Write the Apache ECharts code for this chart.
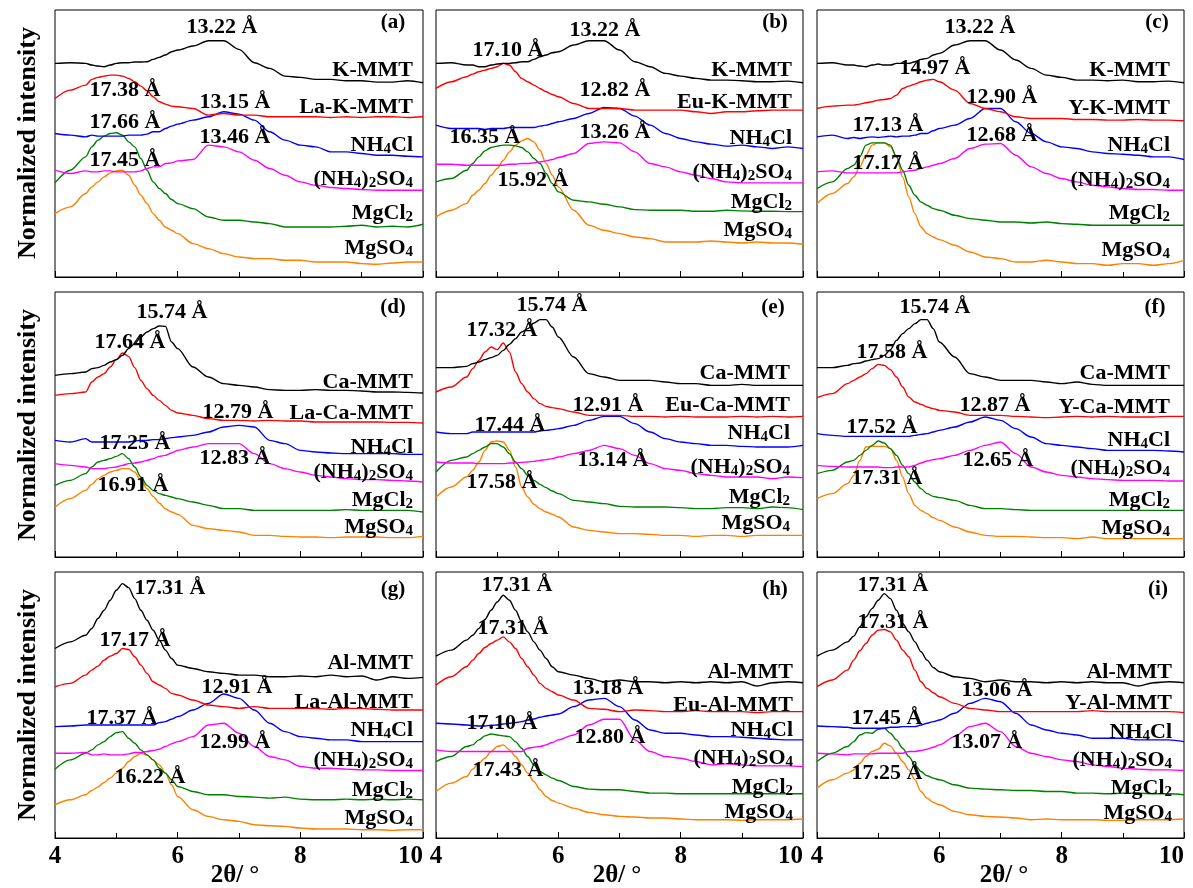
<!DOCTYPE html>
<html>
<head>
<meta charset="utf-8">
<script src="https://cdn.jsdelivr.net/npm/echarts@6/dist/echarts.min.js"></script>
<style>
html,body{margin:0;padding:0;background:#fff;}
#main{width:1193px;height:888px;}
</style>
</head>
<body>
<div id="main"></div>
<script>
// 2θ sampling shared by all curves (degrees); denser where the low-angle peaks sit
const theta = [4,4.25,4.5, 4.6,4.7,4.8,4.9,5,5.1,5.2,5.3,5.4,5.5,5.6,5.7,5.8,5.9,6,
               6.25,6.5,6.75,7,7.25,7.5,7.75,8,8.25,8.5,8.75,9,9.25,9.5,9.75,10];
const xTicks = [4,6,8,10];

// (a) K-MMT / La-K-MMT
const a_mmt    = [640,642,640, 635,632,630,635,640,642,642,644,644,645,652,658,665,675,680, 692,708,708,682,642,625,602,598,592,592,588,588,584,584,588,582];
const a_ree    = [535,560,575, 592,598,602,605,605,602,595,585,572,558,540,525,518,512,510, 505,485,490,485,485,480,480,480,480,478,480,478,480,480,478,480];
const a_nh4cl  = [430,425,420, 425,422,422,422,422,422,425,425,425,428,435,435,445,452,458, 470,480,495,488,470,435,410,395,390,375,375,370,365,365,362,360];
const a_nh4so4 = [320,310,318, 315,315,318,318,315,315,315,315,318,325,330,330,340,342,348, 352,395,390,375,350,325,305,285,275,268,265,262,260,260,260,260];
const a_mgcl2  = [282,320,360, 390,410,422,430,432,425,405,390,355,320,285,265,250,232,220, 205,180,170,170,165,160,150,150,150,150,152,155,150,152,150,158];
const a_mgso4  = [190,210,250, 270,285,300,312,318,320,305,275,245,220,190,170,150,140,130, 100,85,70,60,55,55,50,50,45,45,45,40,38,42,45,45];
// (b) K-MMT / Eu-K-MMT
const b_mmt    = [640,642,635, 635,630,630,635,638,640,640,642,645,645,652,660,665,672,675, 695,708,708,680,645,630,610,602,595,590,590,588,585,585,587,582];
const b_ree    = [565,585,600, 608,615,620,625,630,640,635,615,595,585,575,565,555,547,540, 520,505,505,505,500,500,500,500,495,490,495,495,498,500,500,500];
const b_nh4cl  = [455,445,445, 445,445,442,445,445,445,448,448,448,448,448,452,455,460,465, 475,490,508,505,482,455,430,415,405,398,392,395,390,385,390,385];
const b_nh4so4 = [338,338,335, 335,335,335,335,335,335,338,338,340,340,342,345,348,352,358, 370,400,405,402,375,340,330,315,305,295,285,282,282,282,282,282];
const b_mgcl2  = [285,295,320, 340,360,378,388,392,395,395,393,388,375,355,340,310,280,255, 230,225,218,210,202,200,200,200,197,197,200,198,197,197,196,196];
const b_mgso4  = [180,200,220, 245,260,280,305,325,350,375,395,408,415,405,380,340,305,270, 200,155,140,130,120,115,105,105,105,108,105,102,105,102,102,98];
// (c) K-MMT / Y-K-MMT
const c_mmt    = [640,642,635, 635,632,630,635,638,635,635,640,640,640,645,652,655,665,670, 695,708,708,680,650,625,605,598,590,590,588,590,585,585,587,582];
const c_ree    = [505,512,515, 515,518,522,525,530,532,535,545,565,572,578,585,590,592,585, 560,520,505,495,480,475,475,475,472,472,470,470,472,470,470,468];
const c_nh4cl  = [420,425,415, 418,415,418,420,418,420,422,420,422,422,425,430,430,438,445, 455,475,505,505,465,430,405,390,385,375,370,368,365,360,360,352];
const c_nh4so4 = [315,318,312, 312,312,312,312,312,312,312,312,315,318,320,325,330,335,340, 355,385,398,400,365,330,310,295,285,275,270,265,262,262,260,260];
const c_mgcl2  = [265,285,325, 335,360,395,402,402,402,395,360,320,275,245,225,215,205,200, 185,175,170,165,165,162,165,160,158,155,155,155,155,155,155,155];
const c_mgso4  = [220,250,280, 300,330,365,395,402,402,390,360,300,240,190,150,130,120,112, 95,75,60,55,45,45,50,45,40,40,35,40,40,35,40,50];
// (d) Ca-MMT / La-Ca-MMT
const d_mmt    = [545,550,555, 565,568,575,585,592,605,625,640,660,675,685,693,692,645,625, 570,540,520,515,510,502,500,500,502,500,500,498,495,495,494,492];
const d_ree    = [485,490,495, 525,540,550,570,592,612,602,568,530,505,485,470,455,440,432, 425,415,410,410,408,410,408,408,405,405,405,405,405,404,404,402];
const d_nh4cl  = [350,345,355, 345,345,345,345,345,345,345,348,350,350,352,352,355,358,360, 365,375,390,395,390,350,340,320,315,312,310,310,310,310,308,308];
const d_nh4so4 = [280,275,270, 265,265,265,268,270,275,280,282,285,290,295,302,305,312,320, 330,340,340,340,310,280,265,255,245,240,235,232,232,230,228,225];
const d_mgcl2  = [215,230,250, 270,285,290,295,302,310,295,270,240,215,200,190,185,180,175, 165,155,145,145,140,140,140,140,140,140,142,140,140,140,140,135];
const d_mgso4  = [150,175,200, 218,235,245,255,260,265,265,255,230,205,182,162,145,135,128, 95,85,80,75,65,65,62,60,60,58,60,60,60,58,58,62];
// (e) Ca-MMT / Eu-Ca-MMT
const e_mmt    = [568,568,572, 580,585,592,598,605,620,638,655,675,685,702,712,712,690,660, 600,550,540,530,530,530,525,520,520,515,515,518,515,515,515,515];
const e_ree    = [495,510,540, 565,590,615,630,622,642,615,555,520,495,475,460,452,448,445, 435,425,425,425,422,422,420,422,420,420,420,422,420,422,420,422];
const e_nh4cl  = [375,370,370, 375,375,375,375,375,375,375,375,375,375,375,378,380,382,385, 395,410,422,422,400,375,355,345,340,335,335,332,330,330,330,335];
const e_nh4so4 = [285,282,282, 282,280,280,280,280,280,282,282,284,285,287,290,292,295,300, 310,320,335,325,305,280,265,260,250,245,240,240,240,235,240,238];
const e_mgcl2  = [255,290,300, 310,320,330,340,340,330,310,285,265,245,230,218,208,198,190, 170,165,160,152,150,150,150,148,145,145,148,148,145,150,148,142];
const e_mgso4  = [180,210,240, 260,285,320,345,348,345,320,270,210,180,158,145,135,128,120, 90,80,75,70,70,68,65,65,62,65,65,62,65,65,65,65];
// (f) Ca-MMT / Y-Ca-MMT
const f_mmt    = [568,568,575, 580,582,588,592,595,605,622,650,670,685,700,712,712,685,645, 600,550,540,530,530,530,525,520,525,518,515,515,515,515,515,515];
const f_ree    = [478,490,520, 530,540,550,565,578,575,562,540,510,480,465,458,450,445,440, 435,425,425,425,422,420,418,420,422,420,422,420,420,420,422,422];
const f_nh4cl  = [370,365,362, 362,362,362,362,362,362,362,362,362,362,365,368,370,375,380, 390,405,420,410,385,360,340,335,330,325,320,320,320,320,318,315];
const f_nh4so4 = [275,272,270, 270,270,270,270,270,268,268,270,270,270,275,282,288,292,295, 305,320,335,345,310,270,255,245,240,235,232,230,230,230,228,228];
const f_mgcl2  = [250,260,285, 290,305,320,335,348,342,325,305,275,250,225,205,190,182,178, 170,155,145,145,142,140,140,140,140,140,140,140,140,140,140,140];
const f_mgso4  = [175,190,220, 245,290,330,332,332,332,325,290,240,190,155,140,130,118,110, 90,75,65,62,62,60,58,58,55,60,55,55,55,55,55,55];
// (g) Al-MMT / La-Al-MMT
const g_mmt    = [565,585,605, 625,655,680,710,740,760,748,715,680,650,620,590,560,535,515, 505,495,490,485,485,480,480,482,480,485,480,482,470,480,475,478];
const g_ree    = [450,460,485, 500,512,530,542,550,565,562,540,515,490,465,455,445,430,425, 410,395,390,385,390,385,385,385,385,382,385,385,382,380,380,380];
const g_nh4cl  = [330,332,335, 335,335,335,335,335,335,335,335,335,335,335,342,345,352,360, 380,400,428,415,380,340,315,300,295,290,290,285,285,285,285,285];
const g_nh4so4 = [250,250,252, 245,245,248,245,245,245,248,252,252,255,258,262,270,278,285, 300,335,340,310,270,240,230,210,205,205,202,200,200,198,198,198];
const g_mgcl2  = [202,230,250, 260,275,285,300,312,315,295,280,260,245,230,205,190,170,150, 135,125,125,120,118,115,118,112,110,110,112,110,112,110,112,110];
const g_mgso4  = [95,110,125, 138,148,162,175,190,205,225,240,250,245,230,215,190,155,120, 80,60,50,45,35,32,30,25,22,22,22,20,20,18,20,20];
// (h) Al-MMT / Eu-Al-MMT
const h_mmt    = [542,560,590, 605,625,652,680,705,725,710,680,645,615,585,560,535,510,495, 485,475,465,470,465,465,462,465,462,465,462,465,452,462,465,462];
const h_ree    = [455,480,510, 530,550,568,580,590,600,585,565,535,510,485,460,445,435,425, 410,385,382,375,380,378,375,375,378,375,375,375,372,375,375,375];
const h_nh4cl  = [340,338,335, 333,332,332,334,335,338,340,342,345,350,353,358,362,365,368, 390,410,415,390,350,320,310,310,305,300,300,298,295,292,290,290];
const h_nh4so4 = [260,255,255, 255,255,255,255,255,255,255,255,255,265,268,270,275,282,290, 305,335,352,352,290,255,240,235,225,215,218,215,212,212,212,210];
const h_mgcl2  = [225,240,270, 275,290,302,308,305,302,300,285,265,240,215,195,185,175,168, 150,142,140,140,135,130,130,128,128,128,128,128,128,128,128,128];
const h_mgso4  = [135,160,180, 202,220,235,255,270,275,260,240,215,190,165,140,120,108,100, 85,72,65,60,58,55,55,52,50,50,50,48,50,50,50,52];
// (i) Al-MMT / Y-Al-MMT
const i_mmt    = [542,560,585, 602,630,660,685,710,730,715,680,640,615,585,555,530,508,495, 480,475,465,470,465,465,462,465,462,465,462,462,452,462,465,462];
const i_ree    = [450,470,500, 530,558,580,605,620,622,615,590,560,540,500,465,445,432,420, 400,385,380,375,375,375,375,375,375,378,375,375,375,375,375,372];
const i_nh4cl  = [332,330,328, 325,325,325,325,325,325,328,328,330,330,330,335,340,345,350, 370,400,415,405,370,335,320,310,305,295,295,295,290,290,290,285];
const i_nh4so4 = [250,248,245, 248,248,248,248,250,250,250,250,250,255,255,258,262,268,275, 300,330,340,315,270,250,240,230,225,215,210,205,202,200,200,198];
const i_mgcl2  = [225,250,270, 285,305,312,310,322,325,310,290,265,240,215,195,182,175,170, 155,145,142,140,138,138,135,135,130,130,128,130,130,128,128,125];
const i_mgso4  = [145,170,190, 200,220,240,255,262,280,272,250,225,200,170,135,115,102,95, 75,65,60,58,55,50,52,50,50,50,48,48,50,50,50,52];

// sample names (digits are drawn as subscripts)
const namesA = ['K-MMT','La-K-MMT','NH4Cl','(NH4)2SO4','MgCl2','MgSO4'];
const namesB = ['K-MMT','Eu-K-MMT','NH4Cl','(NH4)2SO4','MgCl2','MgSO4'];
const namesC = ['K-MMT','Y-K-MMT','NH4Cl','(NH4)2SO4','MgCl2','MgSO4'];
const namesD = ['Ca-MMT','La-Ca-MMT','NH4Cl','(NH4)2SO4','MgCl2','MgSO4'];
const namesE = ['Ca-MMT','Eu-Ca-MMT','NH4Cl','(NH4)2SO4','MgCl2','MgSO4'];
const namesF = ['Ca-MMT','Y-Ca-MMT','NH4Cl','(NH4)2SO4','MgCl2','MgSO4'];
const namesG = ['Al-MMT','La-Al-MMT','NH4Cl','(NH4)2SO4','MgCl2','MgSO4'];
const namesH = ['Al-MMT','Eu-Al-MMT','NH4Cl','(NH4)2SO4','MgCl2','MgSO4'];
const namesI = ['Al-MMT','Y-Al-MMT','NH4Cl','(NH4)2SO4','MgCl2','MgSO4'];

// d-spacing annotations
const peaksA = ['13.22 Å','17.38 Å','13.15 Å','17.66 Å','13.46 Å','17.45 Å'];
const peaksB = ['13.22 Å','17.10 Å','12.82 Å','16.35 Å','13.26 Å','15.92 Å'];
const peaksC = ['13.22 Å','14.97 Å','12.90 Å','17.13 Å','12.68 Å','17.17 Å'];
const peaksD = ['15.74 Å','17.64 Å','12.79 Å','17.25 Å','12.83 Å','16.91 Å'];
const peaksE = ['15.74 Å','17.32 Å','12.91 Å','17.44 Å','13.14 Å','17.58 Å'];
const peaksF = ['15.74 Å','17.58 Å','12.87 Å','17.52 Å','12.65 Å','17.31 Å'];
const peaksG = ['17.31 Å','17.17 Å','12.91 Å','17.37 Å','12.99 Å','16.22 Å'];
const peaksH = ['17.31 Å','17.31 Å','13.18 Å','17.10 Å','12.80 Å','17.43 Å'];
const peaksI = ['17.31 Å','17.31 Å','13.06 Å','17.45 Å','13.07 Å','17.25 Å'];

const panelTags = ['(a)','(b)','(c)','(d)','(e)','(f)','(g)','(h)','(i)'];
const yTitle = 'Normalized intensity';
const xTitle = '2θ/ °';

// ---- layout (pixels) ----
const colLeft = [55, 436, 817], colWidth = [368, 367, 367];
const rowTop = [10, 292, 572], rowHeight = [267, 265, 266];
const rowRange = [[0, 800], [0, 795], [-5, 795]];
const namePos = [
  [413, [70,107,145,179,213,248]], [792, [70,102,138,172,202,230]], [1170, [70,108,145,180,213,250]],
  [413, [382,413,447,472,500,527]], [790, [373,405,433,467,497,523]], [1170, [373,407,440,468,500,528]],
  [413, [663,702,730,760,790,818]], [793, [672,705,730,758,787,812]], [1172, [672,703,732,760,788,813]]
];
const peakPos = [
  [[222,27],[125,90],[235,102],[125,122],[235,137],[125,160]],
  [[605,30],[508,50],[615,90],[485,137],[615,132],[533,180]],
  [[980,27],[935,68],[1002,97],[888,125],[1002,135],[888,163]],
  [[172,312],[130,342],[238,412],[135,443],[235,458],[133,485]],
  [[552,305],[502,330],[608,405],[510,425],[613,460],[502,482]],
  [[935,307],[892,352],[995,405],[882,427],[998,460],[887,478]],
  [[170,588],[135,640],[237,687],[122,718],[235,742],[150,777]],
  [[517,585],[513,628],[608,688],[502,723],[610,737],[508,770]],
  [[893,585],[893,622],[997,690],[887,718],[987,742],[887,773]]
];
const tagPos = [[393,23],[775,23],[1157,23],[393,308],[773,308],[1155,308],[393,590],[775,590],[1158,590]];
const yTitleY = [143, 425, 705];
const xTitleX = [235, 617, 1004];

const colors = ['#000000','#ff0000','#0000ff','#ff00ff','#008000','#ff8000'];
const FF = '"Times New Roman", "Liberation Serif", serif';

const panelSeries = [
  [a_mmt,a_ree,a_nh4cl,a_nh4so4,a_mgcl2,a_mgso4],
  [b_mmt,b_ree,b_nh4cl,b_nh4so4,b_mgcl2,b_mgso4],
  [c_mmt,c_ree,c_nh4cl,c_nh4so4,c_mgcl2,c_mgso4],
  [d_mmt,d_ree,d_nh4cl,d_nh4so4,d_mgcl2,d_mgso4],
  [e_mmt,e_ree,e_nh4cl,e_nh4so4,e_mgcl2,e_mgso4],
  [f_mmt,f_ree,f_nh4cl,f_nh4so4,f_mgcl2,f_mgso4],
  [g_mmt,g_ree,g_nh4cl,g_nh4so4,g_mgcl2,g_mgso4],
  [h_mmt,h_ree,h_nh4cl,h_nh4so4,h_mgcl2,h_mgso4],
  [i_mmt,i_ree,i_nh4cl,i_nh4so4,i_mgcl2,i_mgso4]
];
const panelNames = [namesA,namesB,namesC,namesD,namesE,namesF,namesG,namesH,namesI];
const panelPeaks = [peaksA,peaksB,peaksC,peaksD,peaksE,peaksF,peaksG,peaksH,peaksI];

function richName(s) {
  return ('{n|' + s.replace(/(\d+)/g, '}{s|$1}{n|') + '}').replace(/\{n\|\}/g, '');
}
const richStyle = {
  n: {fontSize: 22, fontWeight: 'bold', fontFamily: FF, fill: '#000', lineHeight: 23, verticalAlign: 'bottom'},
  s: {fontSize: 15, fontWeight: 'bold', fontFamily: FF, fill: '#000', lineHeight: 10, verticalAlign: 'bottom'}
};
function txt(x, y, text, size, align, extra) {
  return Object.assign({
    type: 'text', x: x, y: y, silent: true, z: 100,
    style: {
      text: text, fill: '#000', font: 'bold ' + size + 'px ' + FF,
      align: align, textAlign: align, verticalAlign: 'middle', textVerticalAlign: 'middle'
    }
  }, extra || {});
}

const grids = [], xAxes = [], yAxes = [], series = [], graphics = [];
for (let p = 0; p < 9; p++) {
  const r = Math.floor(p / 3), c = p % 3;
  grids.push({
    left: colLeft[c], top: rowTop[r], width: colWidth[c], height: rowHeight[r],
    show: true, borderColor: '#000', borderWidth: 1, backgroundColor: 'transparent',
    containLabel: false, outerBoundsMode: 'none'
  });
  xAxes.push({
    type: 'value', gridIndex: p, min: xTicks[0], max: xTicks[xTicks.length - 1], interval: 2,
    axisLine: {show: true, onZero: false, lineStyle: {color: '#000', width: 1}},
    axisTick: {show: true, inside: true, length: 6, lineStyle: {color: '#000', width: 1}},
    minorTick: {show: true, splitNumber: 2, length: 5, lineStyle: {color: '#000', width: 1}},
    splitLine: {show: false},
    axisLabel: {
      show: r === 2, color: '#000', fontFamily: FF, fontWeight: 'bold', fontSize: 25, margin: 6,
      showMinLabel: true, showMaxLabel: true, hideOverlap: false, alignMaxLabel: 'right'
    }
  });
  yAxes.push({
    type: 'value', gridIndex: p, min: rowRange[r][0], max: rowRange[r][1], show: false,
    splitLine: {show: false}
  });
  panelSeries[p].forEach((arr, k) => {
    series.push({
      type: 'line', xAxisIndex: p, yAxisIndex: p, silent: true,
      data: theta.map((t, j) => [t, arr[j]]),
      showSymbol: false, symbol: 'none', smooth: 0.3, smoothMonotone: 'x',
      lineStyle: {color: colors[k], width: 1.4},
      itemStyle: {color: colors[k]},
      z: 2 + (5 - k)
    });
  });
  panelNames[p].forEach((nm, k) => {
    const g = txt(namePos[p][0], namePos[p][1][k], richName(nm), 22, 'right');
    g.style.rich = richStyle;
    graphics.push(g);
  });
  panelPeaks[p].forEach((lb, k) => {
    graphics.push(txt(peakPos[p][k][0], peakPos[p][k][1], lb, 22, 'center'));
  });
  graphics.push(txt(tagPos[p][0], tagPos[p][1], panelTags[p], 21, 'center'));
}
for (let r = 0; r < 3; r++) {
  graphics.push(txt(28, yTitleY[r], yTitle, 26, 'center', {rotation: Math.PI / 2}));
}
for (let c = 0; c < 3; c++) {
  graphics.push(txt(xTitleX[c], 876, xTitle, 25, 'center'));
}

const chart = echarts.init(document.getElementById('main'), null, {renderer: 'canvas'});
chart.setOption({
  animation: false,
  backgroundColor: '#ffffff',
  grid: grids,
  xAxis: xAxes,
  yAxis: yAxes,
  series: series,
  graphic: graphics
});
</script>
</body>
</html>
